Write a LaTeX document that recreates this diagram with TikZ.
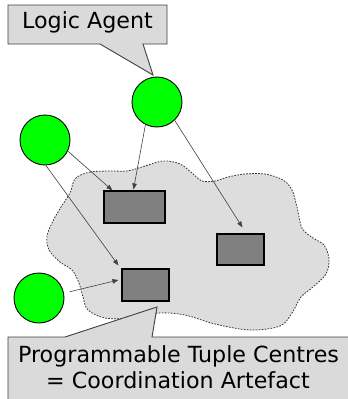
\documentclass[tikz,border=0pt]{standalone}
\usepackage{fontspec}
\setmainfont{DejaVu Sans}
\usetikzlibrary{arrows.meta}
\definecolor{agentgreen}{HTML}{00FF00}
\definecolor{cloudgray}{HTML}{DDDDDD}
\definecolor{boxgray}{HTML}{808080}
\definecolor{calloutgray}{HTML}{DADADA}
\definecolor{edgegray}{HTML}{404040}
\tikzset{
  agent/.style={circle, draw=black, line width=0.9pt, fill=agentgreen, minimum size=50pt, inner sep=0pt},
  tuplebox/.style={rectangle, draw=black, line width=1.1pt, fill=boxgray, inner sep=0pt},
  link/.style={draw=edgegray, line width=0.6pt, -{Triangle[length=6pt,width=4.5pt]}},
  callout/.style={fill=calloutgray, draw=edgegray, line width=0.9pt, line join=miter},
  cloud/.style={fill=cloudgray, draw=black!80, line width=0.8pt, dash pattern=on 1.6pt off 1.4pt},
  label/.style={font=\fontsize{22.2}{26}\selectfont, inner sep=0pt, anchor=base}
}
\begin{document}
\begin{tikzpicture}[x=1pt,y=-1pt]
\useasboundingbox (0,0) rectangle (348,399);
\clip (0,0) rectangle (348,399);
% cloud (tuple centre space)
\path[cloud] plot[smooth cycle, tension=0.55] coordinates {
 (77,177) (90,172) (110,171) (127,171) (142,167) (163,161) (180,164)
 (192,173) (202,181) (215,181) (228,177) (245,174) (265,174) (283,180)
 (292,190) (297,207) (302,228) (313,238) (324,245) (329,259) (326,274)
 (313,287) (301,297) (292,313) (280,326) (250,330) (215,324) (185,315)
 (160,313) (130,318) (105,318) (88,310) (83,297) (79,283) (72,270)
 (60,262) (49,250) (47,236) (53,221) (61,207) (70,193) (73,183)};
% tuple centres
\node[tuplebox, minimum width=61pt, minimum height=32pt] (r1) at (134.5,207) {};
\node[tuplebox, minimum width=47pt, minimum height=31pt] (r2) at (240.5,249.5) {};
\node[tuplebox, minimum width=47pt, minimum height=32pt] (r3) at (145.5,285) {};
% agents
\node[agent] (a1) at (157,102) {};
\node[agent] (a2) at (45,140) {};
\node[agent] (a3) at (39,298) {};
% links
\draw[link] (a1.243) -- ([xshift=-1pt,yshift=1pt]r1.north);
\draw[link] (a1.314) -- ([xshift=26pt,yshift=6pt]r2.north west);
\draw[link] (a2.334) -- ([xshift=9pt]r1.north west);
\draw[link] (a2.272) -- ([xshift=-3pt,yshift=3pt]r3.north west);
\draw[link, shorten <=6pt] (a3.11) -- ([xshift=-3pt,yshift=5pt]r3.west);
% callout: logic agent
\path[callout] (8,5) -- (167,5) -- (167,44) -- (143,44) -- (153,75) -- (100,44) -- (8,44) -- cycle;
\node[label] (t1) at (87.5,28) {Logic Agent};
% callout: programmable tuple centres
\path[callout] (8,410) -- (8,337) -- (65,337) -- (157,307) -- (152,337) -- (360,337) -- (360,410) -- cycle;
\node[label] (t2) at (178.5,362) {Programmable Tuple Centres};
\node[label] (t3) at (178,388) {= Coordination Artefact};
\end{tikzpicture}
\end{document}
